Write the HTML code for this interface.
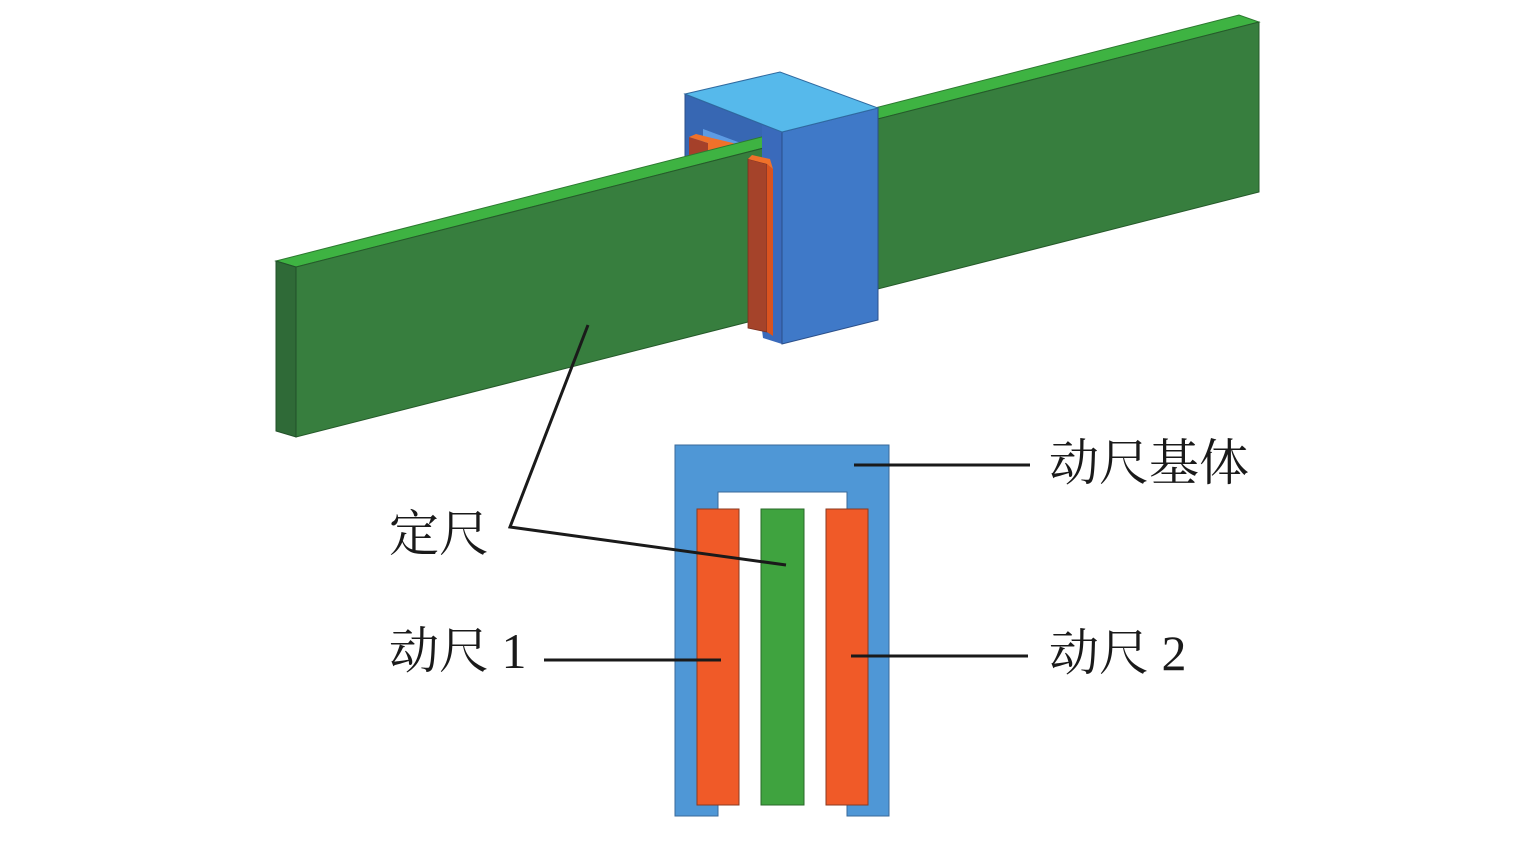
<!DOCTYPE html>
<html>
<head>
<meta charset="utf-8">
<style>
  html,body{margin:0;padding:0;background:#fff;}
  svg{display:block;}
  text{font-family:"Liberation Serif","Noto Serif CJK SC",serif;fill:#1a1a1a;}
</style>
</head>
<body>
<svg width="1535" height="860" viewBox="0 0 1535 860" xmlns="http://www.w3.org/2000/svg">
  <!-- ===== 3D view ===== -->
  <!-- box C-face (behind bar) -->
  <polygon points="685,94 782,132 782,300 685,300" fill="#3767b3" stroke="#2b4f8a" stroke-width="1"/>
  <!-- opening interior -->
  <polygon points="703,129 762,151 762,200 703,200" fill="#4d86d6"/>
  <polygon points="703,129 703,150 760,158 762,151" fill="#5d9be3"/>
  <!-- orange back piece -->
  <polygon points="689,137 708,143 708,175 689,175" fill="#a5402a"/>
  <polygon points="689,137 696,134 712,138 708,143" fill="#f0712a"/>
  <polygon points="708,143 712,138 733,143 748,150 730,155 708,150" fill="#f0712a"/>

  <!-- green bar -->
  <polygon points="276,261 1239,15 1259,22 296,267" fill="#3eb342" stroke="#2c7a30" stroke-width="1"/>
  <polygon points="296,267 1259,22 1259,192 296,437" fill="#377e3e" stroke="#255a2a" stroke-width="1"/>
  <polygon points="276,261 296,267 296,437 276,431" fill="#2f6a37" stroke="#22502a" stroke-width="1"/>

  <!-- near wall of box (part of C-face) -->
  <polygon points="762,125 782,132 782,344 763,338 762,330" fill="#3a6abb"/>
  <!-- orange strip (moving scale, near side) -->
  <polygon points="748,159 767,164 767,332 748,328" fill="#a5432a" stroke="#7a2f1e" stroke-width="0.8"/>
  <polygon points="767,164 773,169 773,336 767,332" fill="#d9531f"/>
  <polygon points="748,159 752,155 770,159 773,169 767,164" fill="#f0712a"/>

  <!-- box right face and top -->
  <polygon points="782,132 878,108 878,320 782,344" fill="#3f79c8" stroke="#2b4f8a" stroke-width="1"/>
  <polygon points="685,94 780,72 878,108 782,132" fill="#56b9eb" stroke="#2f6aa0" stroke-width="1"/>

  <!-- ===== cross-section ===== -->
  <polygon points="675,445 889,445 889,816 847,816 847,492 718,492 718,816 675,816" fill="#4f97d6" stroke="#3a6a9a" stroke-width="1"/>
  <rect x="697" y="509" width="42" height="296" fill="#f05a28" stroke="#8a3a20" stroke-width="1"/>
  <rect x="761" y="509" width="43" height="296" fill="#3fa33f" stroke="#2a6a2a" stroke-width="1"/>
  <rect x="826" y="509" width="42" height="296" fill="#f05a28" stroke="#8a3a20" stroke-width="1"/>

  <!-- ===== leader lines ===== -->
  <g stroke="#1a1a1a" stroke-width="3" fill="none" stroke-linejoin="miter">
    <polyline points="588,325 510,527 786,565"/>
    <line x1="854" y1="465" x2="1030" y2="465"/>
    <line x1="851" y1="656" x2="1028" y2="656"/>
    <line x1="544" y1="660" x2="721" y2="660"/>
  </g>

  <!-- ===== labels ===== -->
  <text x="1049" y="480" font-size="50">动尺基体</text>
  <text x="389" y="551" font-size="50">定尺</text>
  <text x="389" y="668" font-size="50">动尺 1</text>
  <text x="1049" y="670" font-size="50">动尺 2</text>
</svg>
</body>
</html>
